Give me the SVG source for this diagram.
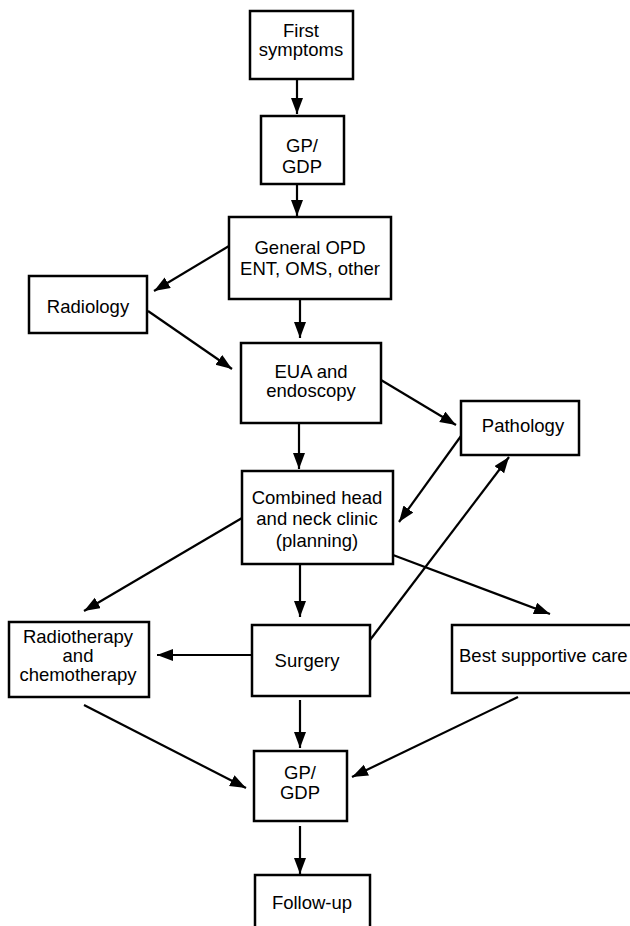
<svg xmlns="http://www.w3.org/2000/svg" width="630" height="926" viewBox="0 0 630 926">
<style>
.box{fill:#fff;stroke:#000;stroke-width:2.5}
.t{font-family:"Liberation Sans",Arial,sans-serif;font-size:18.5px;fill:#000;text-anchor:middle}
.c{fill:none;stroke:#000;stroke-width:2.2}
</style>
<defs>
<marker id="ah" markerUnits="userSpaceOnUse" markerWidth="17" markerHeight="13" refX="16" refY="6" orient="auto">
<path d="M0,0 L16,6 L0,12 z" fill="#000"/>
</marker>
</defs>
<rect width="630" height="926" fill="#fff"/>
<g id="connectors">
<line class="c" x1="297" y1="79" x2="297" y2="114" marker-end="url(#ah)"/>
<line class="c" x1="297" y1="184" x2="297" y2="216" marker-end="url(#ah)"/>
<line class="c" x1="229" y1="246" x2="154" y2="291" marker-end="url(#ah)"/>
<line class="c" x1="300" y1="299" x2="300" y2="338" marker-end="url(#ah)"/>
<line class="c" x1="148" y1="311" x2="232" y2="369" marker-end="url(#ah)"/>
<line class="c" x1="381" y1="380" x2="456" y2="425" marker-end="url(#ah)"/>
<line class="c" x1="461" y1="436" x2="399" y2="522" marker-end="url(#ah)"/>
<line class="c" x1="370" y1="640" x2="509" y2="457" marker-end="url(#ah)"/>
<line class="c" x1="299" y1="423" x2="299" y2="469" marker-end="url(#ah)"/>
<line class="c" x1="242" y1="518" x2="84" y2="611" marker-end="url(#ah)"/>
<line class="c" x1="300" y1="564" x2="300" y2="617" marker-end="url(#ah)"/>
<line class="c" x1="393" y1="555" x2="550" y2="614" marker-end="url(#ah)"/>
<line class="c" x1="252" y1="655" x2="157" y2="655" marker-end="url(#ah)"/>
<line class="c" x1="84" y1="705" x2="246" y2="788" marker-end="url(#ah)"/>
<line class="c" x1="300" y1="700" x2="300" y2="748" marker-end="url(#ah)"/>
<line class="c" x1="518" y1="697" x2="352" y2="777" marker-end="url(#ah)"/>
<line class="c" x1="300" y1="826" x2="300" y2="874" marker-end="url(#ah)"/>
</g>
<g id="first-symptoms">
<rect class="box" x="250" y="11" width="103" height="68"/>
<text class="t" x="301" y="37">First</text>
<text class="t" x="301" y="56">symptoms</text>
</g>
<g id="gp1">
<rect class="box" x="261" y="116" width="83" height="68"/>
<text class="t" x="302" y="152">GP/</text>
<text class="t" x="302" y="173">GDP</text>
</g>
<g id="general-opd">
<rect class="box" x="229" y="217" width="162" height="82"/>
<text class="t" x="310" y="254">General OPD</text>
<text class="t" x="310" y="275">ENT, OMS, other</text>
</g>
<g id="radiology">
<rect class="box" x="29" y="276" width="118" height="57"/>
<text class="t" x="88" y="313">Radiology</text>
</g>
<g id="eua">
<rect class="box" x="241" y="343" width="140" height="80"/>
<text class="t" x="311" y="378">EUA and</text>
<text class="t" x="311" y="397">endoscopy</text>
</g>
<g id="pathology">
<rect class="box" x="461" y="401" width="118" height="54"/>
<text class="t" x="523" y="432">Pathology</text>
</g>
<g id="combined">
<rect class="box" x="242" y="471" width="151" height="93"/>
<text class="t" x="317" y="504">Combined head</text>
<text class="t" x="317" y="525">and neck clinic</text>
<text class="t" x="317" y="547">(planning)</text>
</g>
<g id="radiotherapy">
<rect class="box" x="9" y="622" width="140" height="75"/>
<text class="t" x="78" y="643">Radiotherapy</text>
<text class="t" x="78" y="662">and</text>
<text class="t" x="78" y="681">chemotherapy</text>
</g>
<g id="surgery">
<rect class="box" x="252" y="625" width="118" height="71"/>
<text class="t" x="307" y="667">Surgery</text>
</g>
<g id="best-supportive-care">
<rect class="box" x="452" y="625" width="190" height="68"/>
<text class="t" x="459" y="662" style="text-anchor:start">Best supportive care</text>
</g>
<g id="gp2">
<rect class="box" x="254" y="751" width="93" height="70"/>
<text class="t" x="300" y="779">GP/</text>
<text class="t" x="300" y="799">GDP</text>
</g>
<g id="follow-up">
<rect class="box" x="255" y="875" width="115" height="60"/>
<text class="t" x="312" y="909">Follow-up</text>
</g>
</svg>
